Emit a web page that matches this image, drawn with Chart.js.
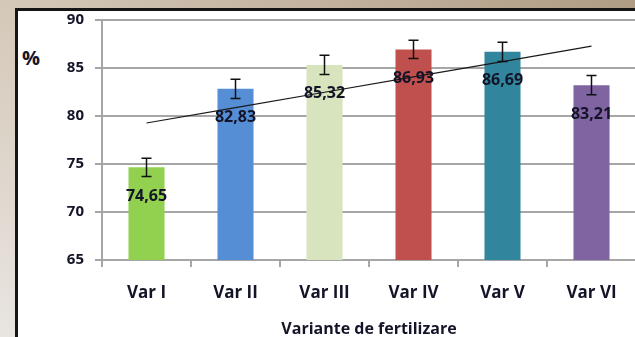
<!DOCTYPE html>
<html>
<head>
<meta charset="utf-8">
<script src="https://cdn.jsdelivr.net/npm/chart.js@4/dist/chart.umd.min.js"></script>
<style>
    html, body {
        margin: 0;
        padding: 0;
        width: 635px;
        height: 337px;
        overflow: hidden;
    }
    body {
        position: relative;
        background: linear-gradient(to top right, #e9e5e1 0%, #d4c8b8 50%, #b09c84 100%);
    }
    .frame {
        position: absolute;
        left: 15px;
        top: 8px;
        width: 700px;
        height: 400px;
        background: #ffffff;
        border-left: 3px solid #151515;
        border-top: 3px solid #151515;
    }
    .unit {
        position: absolute;
        left: 22px;
        top: 44px;
        font: bold 20px "Open Sans", sans-serif;
        color: #141428;
    }
    #yieldChart {
        position: absolute;
        left: 0;
        top: 0;
    }
</style>
</head>
<body>
<div class="frame"></div>
<div class="unit">%</div>
<canvas id="yieldChart" width="640" height="337"></canvas>
<script>
const categories = ['Var I', 'Var II', 'Var III', 'Var IV', 'Var V', 'Var VI'];
const yieldValues = [74.65, 82.83, 85.32, 86.93, 86.69, 83.21];
const errorValues = [0.95, 1.0, 1.0, 0.95, 1.0, 1.0];
const barColors = ['#92d050', '#558ed5', '#d7e4bd', '#c0504d', '#31859c', '#8064a2'];
const yTicks = [65, 70, 75, 80, 85, 90];

const textColor = '#141428';
const gridColor = '#a6a6a6';

// least-squares linear trend through the bar values
const linearTrend = (values) => {
    const n = values.length;
    const xs = values.map((_, i) => i + 1);
    const mx = xs.reduce((a, b) => a + b, 0) / n;
    const my = values.reduce((a, b) => a + b, 0) / n;
    let sxy = 0;
    let sxx = 0;
    xs.forEach((x, i) => {
        sxy += (x - mx) * (values[i] - my);
        sxx += (x - mx) * (x - mx);
    });
    const slope = sxy / sxx;
    return xs.map((x) => my + slope * (x - mx));
};

const errorBars = {
    id: 'errorBars',
    afterDatasetsDraw(chart) {
        const meta = chart.getDatasetMeta(0);
        const y = chart.scales.y;
        const ctx = chart.ctx;
        ctx.save();
        ctx.strokeStyle = '#111111';
        ctx.lineWidth = 1.5;
        meta.data.forEach((bar, i) => {
            const top = y.getPixelForValue(yieldValues[i] + errorValues[i]);
            const bottom = y.getPixelForValue(yieldValues[i] - errorValues[i]);
            ctx.beginPath();
            ctx.moveTo(bar.x, top);
            ctx.lineTo(bar.x, bottom);
            ctx.moveTo(bar.x - 5, top);
            ctx.lineTo(bar.x + 5, top);
            ctx.moveTo(bar.x - 5, bottom);
            ctx.lineTo(bar.x + 5, bottom);
            ctx.stroke();
        });
        ctx.restore();
    },
};

const valueLabels = {
    id: 'valueLabels',
    afterDatasetsDraw(chart) {
        const meta = chart.getDatasetMeta(0);
        const ctx = chart.ctx;
        ctx.save();
        ctx.font = 'bold 16px "Open Sans", sans-serif';
        ctx.fillStyle = textColor;
        ctx.textAlign = 'center';
        ctx.textBaseline = 'middle';
        meta.data.forEach((bar, i) => {
            ctx.fillText(yieldValues[i].toFixed(2).replace('.', ','), bar.x, bar.y + 29);
        });
        ctx.restore();
    },
};

new Chart(document.getElementById('yieldChart'), {
    data: {
        labels: categories,
        datasets: [
            {
                type: 'bar',
                data: yieldValues,
                backgroundColor: barColors,
                categoryPercentage: 1,
                barPercentage: 0.405,
                order: 1,
            },
            {
                type: 'line',
                data: linearTrend(yieldValues),
                borderColor: '#1a1a1a',
                borderWidth: 1.2,
                pointRadius: 0,
                fill: false,
                order: 0,
            },
        ],
    },
    options: {
        responsive: false,
        animation: false,
        layout: { padding: { top: 18, right: 4, left: 0, bottom: 0 } },
        plugins: {
            legend: { display: false },
            tooltip: { enabled: false },
        },
        scales: {
            x: {
                offset: true,
                grid: {
                    offset: true,
                    drawOnChartArea: false,
                    tickLength: 7,
                    color: gridColor,
                    lineWidth: 2,
                },
                border: { color: gridColor, width: 2 },
                ticks: {
                    color: textColor,
                    padding: 16,
                    font: { family: 'Open Sans', size: 17, weight: 'bold' },
                },
                title: {
                    display: true,
                    text: 'Variante de fertilizare',
                    color: textColor,
                    padding: { top: 0, bottom: -2 },
                    font: { family: 'Open Sans', size: 16, weight: 'bold' },
                },
                afterFit(scale) {
                    scale.height = 77;
                },
            },
            y: {
                min: yTicks[0],
                max: yTicks[yTicks.length - 1],
                afterBuildTicks(scale) {
                    scale.ticks = yTicks.map((v) => ({ value: v }));
                },
                grid: {
                    color: gridColor,
                    lineWidth: 2,
                    tickLength: 7,
                },
                border: { color: gridColor, width: 2 },
                ticks: {
                    color: textColor,
                    padding: 11,
                    font: { family: 'Open Sans', size: 15, weight: 'bold' },
                },
                afterFit(scale) {
                    scale.width = 102;
                },
            },
        },
    },
    plugins: [errorBars, valueLabels],
});
</script>
</body>
</html>
